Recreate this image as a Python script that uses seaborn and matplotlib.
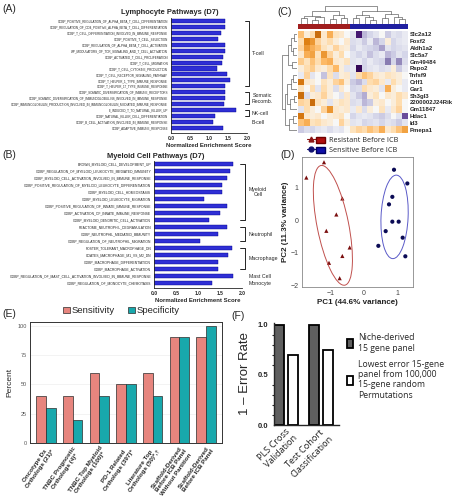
import numpy as np
import pandas as pd
import matplotlib
matplotlib.use("Agg")
import matplotlib.pyplot as plt
from matplotlib.patches import Ellipse, Patch
from matplotlib.lines import Line2D
from matplotlib.colors import ListedColormap
from matplotlib.legend_handler import HandlerTuple
from matplotlib.ticker import MultipleLocator
import seaborn as sns

# ---------------- data ----------------
# (A) lymphocyte pathways
lymph_paths = [
    "GOBP_POSITIVE_REGULATION_OF_ALPHA_BETA_T_CELL_DIFFERENTIATION",
    "GOBP_REGULATION_OF_CD4_POSITIVE_ALPHA_BETA_T_CELL_DIFFERENTIATION",
    "GOBP_T_CELL_DIFFERENTIATION_INVOLVED_IN_IMMUNE_RESPONSE",
    "GOBP_POSITIVE_T_CELL_SELECTION",
    "GOBP_REGULATION_OF_ALPHA_BETA_T_CELL_ACTIVATION",
    "WP_MODULATORS_OF_TCR_SIGNALING_AND_T_CELL_ACTIVATION",
    "GOBP_ACTIVATED_T_CELL_PROLIFERATION",
    "GOBP_T_CELL_MIGRATION",
    "GOBP_T_CELL_CYTOKINE_PRODUCTION",
    "GOBP_T_CELL_RECEPTOR_SIGNALING_PATHWAY",
    "GOBP_T_HELPER_1_TYPE_IMMUNE_RESPONSE",
    "GOBP_T_HELPER_17_TYPE_IMMUNE_RESPONSE",
    "GOBP_SOMATIC_DIVERSIFICATION_OF_IMMUNE_RECEPTORS",
    "GOBP_SOMATIC_DIVERSIFICATION_OF_IMMUNOGLOBULINS_INVOLVED_IN_IMMUNE_RESPONSE",
    "GOBP_IMMUNOGLOBULIN_PRODUCTION_INVOLVED_IN_IMMUNOGLOBULIN_MEDIATED_IMMUNE_RESPONSE",
    "LI_INDUCED_T_TO_NATURAL_KILLER_UP",
    "GOBP_NATURAL_KILLER_CELL_DIFFERENTIATION",
    "GOBP_B_CELL_ACTIVATION_INVOLVED_IN_IMMUNE_RESPONSE",
    "GOBP_ADAPTIVE_IMMUNE_RESPONSE",
]
lymph_nes = [1.43, 1.41, 1.32, 1.25, 1.43, 1.41, 1.37, 1.34, 1.21, 1.48,
             1.55, 1.41, 1.43, 1.43, 1.39, 1.72, 1.16, 1.10, 1.38]
lymph_groups = [("T-cell", 0, 11), ("Somatic\nRecomb.", 12, 14),
                ("NK-cell", 15, 16), ("B-cell", 17, 17)]

# (B) myeloid pathways
myel_paths = [
    "BROWN_MYELOID_CELL_DEVELOPMENT_UP",
    "GOBP_REGULATION_OF_MYELOID_LEUKOCYTE_MEDIATED_IMMUNITY",
    "GOBP_MYELOID_CELL_ACTIVATION_INVOLVED_IN_IMMUNE_RESPONSE",
    "GOBP_POSITIVE_REGULATION_OF_MYELOID_LEUKOCYTE_DIFFERENTIATION",
    "GOBP_MYELOID_CELL_HOMEOSTASIS",
    "GOBP_MYELOID_LEUKOCYTE_MIGRATION",
    "GOBP_POSITIVE_REGULATION_OF_INNATE_IMMUNE_RESPONSE",
    "GOBP_ACTIVATION_OF_INNATE_IMMUNE_RESPONSE",
    "GOBP_MYELOID_DENDRITIC_CELL_ACTIVATION",
    "REACTOME_NEUTROPHIL_DEGRANULATION",
    "GOBP_NEUTROPHIL_MEDIATED_IMMUNITY",
    "GOBP_REGULATION_OF_NEUTROPHIL_MIGRATION",
    "FOSTER_TOLERANT_MACROPHAGE_DN",
    "COATES_MACROPHAGE_M1_VS_M2_DN",
    "GOBP_MACROPHAGE_DIFFERENTIATION",
    "GOBP_MACROPHAGE_ACTIVATION",
    "GOBP_REGULATION_OF_MAST_CELL_ACTIVATION_INVOLVED_IN_IMMUNE_RESPONSE",
    "GOBP_REGULATION_OF_MONOCYTE_CHEMOTAXIS",
]
myel_nes = [1.80, 1.72, 1.65, 1.55, 1.55, 1.14, 1.67, 1.51, 1.24,
            1.65, 1.46, 1.04, 1.77, 1.69, 1.45, 1.45, 1.80, 1.31]
myel_groups = [("Myeloid\nCell", 0, 8), ("Neutrophil", 9, 11),
               ("Macrophage", 12, 15), ("Mast Cell", 16, 16), ("Monocyte", 17, 17)]

# (C) heatmap
genes = ["Slc2a12", "Foxf2", "Aldh1a2", "Slc5a7", "Gm49484", "Rspo2", "Tnfsf9",
         "Crlf1", "Gar1", "Sh3gl3", "2200002J24Rik", "Gm11847", "Hdac1", "Id3", "Pmepa1"]
sample_group = [0] * 9 + [1] * 10
heat_values = [
    [0.8, 0.2, 0.5, 1.6, 0.3, 1.0, 0.4, 0.3, 0.0, -0.3, -2.0, -0.8, -0.5, -0.3, 0.0, -0.6, -0.3, -0.4, -0.2],
    [0.5, 1.4, 1.2, 0.6, 0.3, 0.5, 0.2, 0.0, 0.3, -0.4, -0.3, -0.6, -0.2, -0.8, -0.5, 0.2, -0.5, -0.3, -0.2],
    [0.6, 1.2, 1.0, 0.8, 0.4, 0.2, 0.6, 0.3, 0.2, -0.5, -0.2, -0.4, -0.5, -0.6, -1.0, -0.3, -0.5, -0.4, -0.3],
    [0.3, 1.0, 1.1, 0.4, 1.2, 0.6, 0.2, 0.5, 0.0, -0.3, -0.5, -0.3, -0.7, -0.4, -0.2, -0.8, -0.6, -0.3, -0.5],
    [0.7, 0.4, 0.8, 0.5, 0.9, 1.0, 0.3, 0.2, 0.4, -0.3, -0.2, -0.5, -0.2, -0.4, -0.5, -1.3, -0.5, -1.2, -0.4],
    [0.2, 0.5, 0.7, 0.3, 0.2, 0.5, 0.9, 0.2, -0.3, -0.2, -2.2, -0.5, -0.3, -0.2, -0.4, -0.3, 0.2, -0.6, -0.2],
    [-0.2, 0.6, -0.3, 0.0, -0.7, 0.4, -0.4, 0.2, 0.3, -0.3, 0.5, 0.8, 0.6, 0.3, 0.2, 0.4, 0.3, 0.2, 0.0],
    [1.5, 0.3, 0.2, 0.0, 0.4, 0.2, 0.6, 0.8, 0.2, -0.6, -0.8, -0.4, 0.5, 0.6, 0.3, -0.2, 0.5, 0.2, -0.2],
    [0.4, 0.0, 0.5, -0.3, 0.5, 0.2, -0.4, 0.3, 0.0, -0.5, -0.4, 0.5, 0.3, 0.2, -0.3, 1.0, 0.2, 0.0, -0.2],
    [1.6, -0.4, 0.2, 0.3, 0.6, 0.2, 0.0, -0.3, 0.3, -0.3, -0.6, -0.9, 0.2, 0.4, 0.0, 0.3, 0.2, 0.5, 0.3],
    [0.6, 0.5, 1.6, 0.4, 0.2, -0.3, 0.2, 0.4, 0.3, -0.4, -0.3, -0.8, -0.6, 0.2, 0.3, 0.0, 0.2, 0.5, 0.0],
    [-0.3, 0.5, 0.2, 0.0, 0.6, 1.2, 0.3, 0.2, 0.3, -0.2, 0.3, -0.4, 0.2, 0.0, 0.4, -0.2, 0.3, 0.6, 0.0],
    [1.5, 0.3, 0.2, 0.3, 0.0, 0.2, 0.3, 0.4, 0.0, -0.5, -0.3, -0.2, -0.3, -0.5, -0.6, -0.4, 0.0, -0.3, -1.6],
    [0.8, 1.0, 0.4, 0.5, 0.3, 0.2, 0.0, 0.6, 0.2, -0.3, -0.2, -0.5, -0.4, -0.3, -0.5, -0.3, -0.4, -0.6, -0.3],
    [-0.6, -0.4, -0.5, -0.3, -0.2, -0.4, -0.2, -0.3, 0.0, 0.4, 0.6, 0.5, 0.8, 0.6, 1.0, 0.3, 0.5, 0.8, 1.1],
]
# dendrograms: (height, left, right) or leaf index
col_tree = (1.0,
            (0.7, (0.45, (0.3, 0, 1), (0.35, (0.2, 2, 3), 4)), (0.5, (0.25, 5, 6), (0.3, 7, 8))),
            (0.72, (0.5, (0.3, 9, 10), (0.35, 11, (0.2, 12, 13))),
             (0.55, (0.3, 14, 15), (0.4, 16, (0.25, 17, 18)))))
row_tree = (1.0,
            (0.6, (0.4, (0.25, 0, 1), (0.3, 2, 3)), (0.35, 4, 5)),
            (0.85, (0.7, (0.45, (0.3, 6, 7), 8), (0.5, (0.25, 9, 10), 11)),
             (0.55, (0.3, 12, 13), 14)))

# (D) PCA
res_pc1 = [-1.73, -1.20, -0.65, -0.83, -1.13, -0.43, -0.65, -1.05, -0.73]
res_pc2 = [1.30, 1.77, 0.66, 0.17, -0.33, -0.84, -1.10, -1.31, -1.78]
sen_pc1 = [0.90, 1.30, 0.85, 0.75, 0.85, 1.04, 0.65, 1.16, 0.43, 1.24]
sen_pc2 = [1.54, 1.12, 0.71, 0.48, -0.05, -0.05, -0.34, -0.54, -0.79, -1.11]

# (E) sensitivity / specificity
e_labels = ["Oncotype Dx\nOrthologs (21)*", "TNBC Prognostic\nOrthologs (4)*",
            "TNBC Top Myeloid\nOrthologs (100)*", "PD-1 Related\nOrthologs (397)*",
            "Literature Top\nOrthologs (50)*,\u2020",
            "Scaffold-Derived\nBefore ICB Panel\nWithout Partition",
            "Scaffold-Derived\nBefore ICB Panel"]
sensitivity = [40, 40, 60, 50, 60, 90, 90]
specificity = [30, 20, 40, 50, 40, 90, 100]

# (F) 1 - error rate
f_tests = ["PLS Cross\nValidation", "Test Cohort\nClassification"]
f_panels = ["Niche-derived\n15 gene panel",
            "Lowest error 15-gene\npanel from 100,000\n15-gene random\nPermutations"]
niche_score = [1.0, 1.0]
lowest_score = [0.70, 0.75]

# ---------------- figure ----------------
sns.set_style("white")
plt.rcParams["font.family"] = ["Liberation Sans", "DejaVu Sans"]
W, H = 456, 500
fig = plt.figure(figsize=(W / 100, H / 100), dpi=100)


def box(x0, y0, x1, y1):
    return [x0 / W, 1 - y1 / H, (x1 - x0) / W, (y1 - y0) / H]


def pathway_panel(ax, paths, nes, groups, ymax, tx, lab_size):
    df = pd.DataFrame({"path": paths, "nes": nes})
    sns.barplot(data=df, y="path", x="nes", orient="h", color="#1414F0",
                edgecolor="#00008B", linewidth=0.3, width=0.68, ax=ax)
    ax.set_xlim(0, 2.0)
    ax.set_ylim(ymax, -0.5)
    ax.set_xticks([0, 0.5, 1.0, 1.5, 2.0])
    ax.set_xticklabels(["0.0", "0.5", "1.0", "1.5", "2.0"], fontsize=3.6, fontweight="bold")
    ax.tick_params(axis="y", labelsize=lab_size, length=1.5, width=0.4, pad=0.5)
    ax.tick_params(axis="x", length=1.5, width=0.4, pad=1)
    ax.set_ylabel("")
    ax.set_xlabel("Normalized Enrichment Score", fontsize=4.3, fontweight="bold", labelpad=1)
    sns.despine(ax=ax)
    for s in ["left", "bottom"]:
        ax.spines[s].set_linewidth(0.6)
    for name, i0, i1 in groups:
        if i1 > i0:
            ax.plot([1.96, 2.06, 2.06, 1.96], [i0, i0, i1, i1], color="black",
                    lw=0.6, clip_on=False)
        ax.text(tx, (i0 + i1) / 2, name, fontsize=3.8, ha="left", va="center",
                multialignment="center", clip_on=False)


axA = fig.add_axes(box(171, 18, 247, 133))
pathway_panel(axA, lymph_paths, lymph_nes, lymph_groups, 18.85, 2.13, 2.15)
fig.text(170 / W, 1 - 12 / H, "Lymphocyte Pathways (D7)", fontsize=5.4,
         fontweight="bold", ha="center", va="center")

axB = fig.add_axes(box(154, 160.5, 242, 288))
pathway_panel(axB, myel_paths, myel_nes, myel_groups, 17.7, 2.16, 2.4)
fig.text(156 / W, 1 - 156 / H, "Myeloid Cell Pathways (D7)", fontsize=5.4,
         fontweight="bold", ha="center", va="center")

# ---- (C) heatmap ----
res_col, sen_col = "#A01E1E", "#2020A0"
heat_df = pd.DataFrame(heat_values, index=genes)
axC = fig.add_axes(box(298, 31, 408, 133))
sns.heatmap(heat_df, cmap="PuOr_r", vmin=-2.3, vmax=2.3, cbar=False,
            xticklabels=False, yticklabels=True, ax=axC)
axC.yaxis.tick_right()
axC.set_yticklabels(genes, rotation=0, fontsize=4.3, fontweight="bold")
axC.tick_params(axis="y", length=0, pad=1)

axCa = fig.add_axes(box(298, 24, 408, 29.5))
sns.heatmap(pd.DataFrame([sample_group]), cmap=ListedColormap([res_col, sen_col]),
            cbar=False, xticklabels=False, yticklabels=False, ax=axCa)


def dendro(node):
    if isinstance(node, int):
        return node + 0.5, 0.0, []
    h, left, right = node
    pl, hl, sl = dendro(left)
    pr, hr, sr = dendro(right)
    return (pl + pr) / 2, h, sl + sr + [([pl, pl, pr, pr], [hl, h, h, hr])]


axCt = fig.add_axes(box(298, 6, 408, 23.5))
for xs, hs in dendro(col_tree)[2]:
    axCt.plot(xs, hs, color="#555555", lw=0.45)
axCt.set_xlim(0, len(sample_group))
axCt.set_ylim(0, 1.02)
axCt.axis("off")

axCl = fig.add_axes(box(282, 31, 297.5, 133))
for ys, hs in dendro(row_tree)[2]:
    axCl.plot(hs, ys, color="#555555", lw=0.45)
axCl.set_ylim(len(genes), 0)
axCl.set_xlim(1.02, 0)
axCl.axis("off")

leg_handles = [(Line2D([], [], color="#8B1515", marker="^", markersize=3.5, lw=0.8),
                Patch(facecolor="#B01010", edgecolor="#700000")),
               (Line2D([], [], color="#101070", marker="o", markersize=3.5, lw=0.8),
                Patch(facecolor="#1010A8", edgecolor="#000060"))]
fig.legend(leg_handles, ["Resistant Before ICB", "Sensitive Before ICB"],
           handler_map={tuple: HandlerTuple(ndivide=None, pad=0.1)},
           loc="upper left", bbox_to_anchor=(303 / W, 1 - 133 / H), frameon=False,
           prop={"family": "Open Sans", "size": 5.2}, handlelength=2.6,
           handleheight=0.9, labelspacing=0.35, handletextpad=0.5, borderpad=0)

# ---- (D) PCA ----
pca_df = pd.DataFrame({
    "PC1": res_pc1 + sen_pc1,
    "PC2": res_pc2 + sen_pc2,
    "group": ["Resistant"] * len(res_pc1) + ["Sensitive"] * len(sen_pc1),
})
axD = fig.add_axes(box(302, 157, 413, 287))
sns.scatterplot(data=pca_df, x="PC1", y="PC2", hue="group", style="group",
                markers={"Resistant": "^", "Sensitive": "o"},
                palette={"Resistant": "#7A0E0E", "Sensitive": "#0B0B55"},
                s=9, edgecolor="none", legend=False, ax=axD)
for g, col in [("Resistant", "#C0504D"), ("Sensitive", "#5A5AC8")]:
    sub = pca_df[pca_df["group"] == g]
    cov = np.cov(sub["PC1"], sub["PC2"])
    vals, vecs = np.linalg.eigh(cov)
    ang = np.degrees(np.arctan2(vecs[1, 1], vecs[0, 1]))
    k = 1.5
    axD.add_patch(Ellipse((sub["PC1"].mean(), sub["PC2"].mean()),
                          2 * k * np.sqrt(vals[1]), 2 * k * np.sqrt(vals[0]),
                          angle=ang, fill=False, color=col, lw=0.7))
axD.set_xlim(-1.86, 1.47)
axD.set_ylim(-2.05, 1.93)
axD.set_xticks([-1, 0, 1])
axD.set_yticks([-2, -1, 0, 1])
axD.tick_params(labelsize=5, colors="#444444", length=1.5, width=0.4, pad=1)
axD.set_xlabel("PC1 (44.6% variance)", fontsize=5.8, fontweight="bold", labelpad=1, color="#222")
axD.set_ylabel("PC2 (11.3% variance)", fontsize=5.8, fontweight="bold", labelpad=1, color="#222")
for s in axD.spines.values():
    s.set_color("#888888")
    s.set_linewidth(0.6)

# ---- (E) grouped bars ----
e_df = pd.DataFrame({
    "panel": e_labels * 2,
    "metric": ["Sensitivity"] * len(e_labels) + ["Specificity"] * len(e_labels),
    "pct": sensitivity + specificity,
})
axE = fig.add_axes(box(30, 322, 222, 443))
sns.barplot(data=e_df, x="panel", y="pct", hue="metric",
            palette=["#F8766D", "#00BFC4"], width=0.72, edgecolor="#2b2b2b",
            linewidth=0.5, ax=axE, zorder=2)
axE.set_ylim(0, 103)
axE.set_xlim(-0.6, 6.6)
axE.set_yticks([0, 25, 50, 75, 100])
axE.yaxis.grid(True, color="#EFEFEF", lw=0.5, zorder=0)
axE.tick_params(axis="y", labelsize=4, colors="#555555", length=1.2, width=0.4, pad=1)
axE.tick_params(axis="x", length=1.2, width=0.4, pad=0.5)
axE.set_xticks(range(len(e_labels)))
axE.set_xticklabels(e_labels, rotation=55, ha="right", rotation_mode="anchor",
                    fontsize=4.5, fontweight="bold", multialignment="center")
axE.set_xlabel("")
axE.set_ylabel("Percent", fontsize=6, labelpad=3)
for s in axE.spines.values():
    s.set_color("#333333")
    s.set_linewidth(0.7)
hE, lE = axE.get_legend_handles_labels()
axE.legend(hE, lE, loc="lower left", bbox_to_anchor=(58 / W, 1 - 320 / H),
           bbox_transform=fig.transFigure, ncol=2, frameon=False, fontsize=6.8,
           handlelength=0.75, handleheight=0.75, handletextpad=0.15,
           columnspacing=1.4, borderpad=0)

# ---- (F) 1 - error ----
f_df = pd.DataFrame({
    "test": f_tests * 2,
    "panel": [f_panels[0]] * 2 + [f_panels[1]] * 2,
    "score": niche_score + lowest_score,
})
axF = fig.add_axes(box(274, 322.5, 339, 425))
sns.barplot(data=f_df, x="test", y="score", hue="panel",
            palette=["#5F5F5F", "white"], edgecolor="black", linewidth=1.3,
            gap=0.3, ax=axF)
axF.set_xlim(-0.34, 1.51)
axF.set_ylim(0, 1.02)
axF.set_yticks([0, 0.5, 1.0])
axF.set_yticklabels(["0.0", "0.5", "1.0"], fontsize=5.5, fontweight="bold")
axF.yaxis.set_minor_locator(MultipleLocator(0.1))
axF.tick_params(axis="y", which="major", length=3, width=1, pad=1)
axF.tick_params(axis="y", which="minor", length=1.8, width=0.8, left=True)
axF.tick_params(axis="x", length=0, pad=1)
axF.set_xticks([0, 1])
axF.set_xticklabels(f_tests, rotation=45, ha="right", rotation_mode="anchor",
                    fontsize=6.6, multialignment="center", family="Open Sans",
                    color="#222")
axF.set_xlabel("")
axF.set_ylabel("1 \u2013 Error Rate", fontsize=9.5, labelpad=5)
sns.despine(ax=axF)
for s in ["left", "bottom"]:
    axF.spines[s].set_linewidth(1.0)
hF, lF = axF.get_legend_handles_labels()
axF.legend(hF, lF, loc="upper left", bbox_to_anchor=(343 / W, 1 - 329 / H),
           bbox_transform=fig.transFigure, frameon=False,
           prop={"family": "Open Sans", "size": 6.2}, handlelength=0.7,
           handleheight=1.2, handletextpad=0.5, labelspacing=0.8, borderpad=0)

# ---- panel letters ----
for lab, x, y in [("(A)", 2, 9), ("(B)", 2, 155), ("(C)", 277, 12),
                  ("(D)", 280, 155), ("(E)", 2, 314), ("(F)", 231, 316)]:
    fig.text(x / W, 1 - y / H, lab, fontsize=7.5, ha="left", va="center")

fig.savefig("out.png", dpi=100)
